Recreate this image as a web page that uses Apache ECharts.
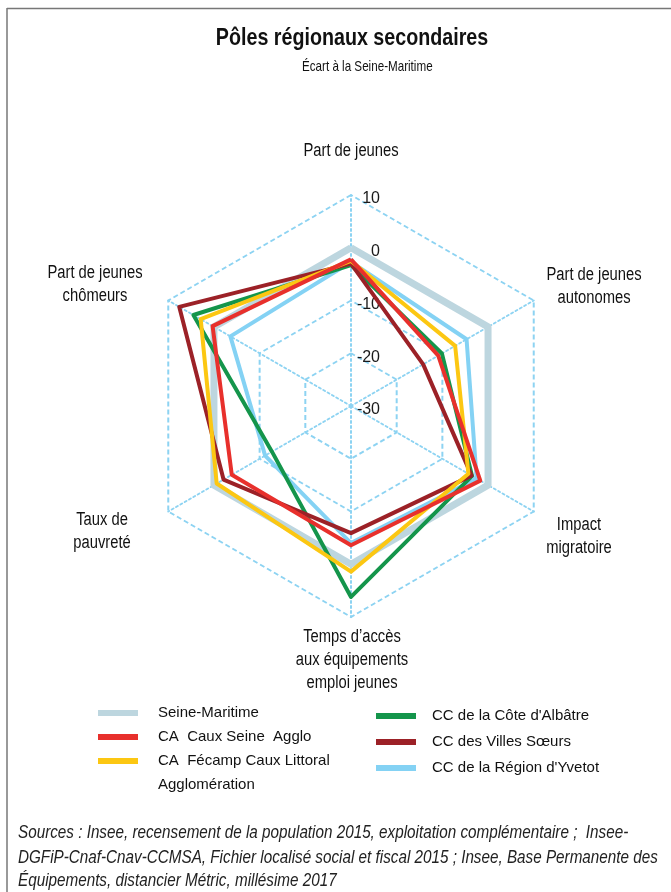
<!DOCTYPE html>
<html>
<head>
<meta charset="utf-8">
<script src="https://cdn.jsdelivr.net/npm/echarts@6/dist/echarts.min.js"></script>
<style>
html,body{margin:0;padding:0;background:#fff;}
#chart{width:671px;height:892px;}
</style>
</head>
<body>
<div id="chart"></div>
<script>
// ---- data ----
const indicatorNames = ['Part de jeunes', 'Part de jeunes\nchômeurs', 'Taux de\npauvreté', 'Temps d’accès\naux équipements\nemploi jeunes', 'Impact\nmigratoire', 'Part de jeunes\nautonomes'];
const seriesNames = ['Seine-Maritime', 'CA  Caux Seine  Agglo', 'CA  Fécamp Caux Littoral\nAgglomération', 'CC de la Côte d\'Albâtre', 'CC des Villes Sœurs', 'CC de la Région d\'Yvetot'];
const seineMaritime = [0, 0, 0, 0, 0, 0];
const cauxSeine = [-2.2, 0.3, -3.9, -3.6, -1.7, -10.9];
const fecamp = [-2.5, 2.9, -0.6, 1.4, -4.3, -7.2];
const coteAlbatre = [-3.3, 4.5, -12.7, 6.2, -3.5, -10.1];
const villesSoeurs = [-3.0, 7.6, -2.1, -5.9, -3.6, -14.2];
const yvetot = [-2.7, -3.6, -11.2, -4.0, -2.5, -4.7];
const axisMin = -30, axisMax = 10;
const tickLabels = ['-30', '-20', '-10', '0', '10'];

const FONT = '"Liberation Sans", Arial, Helvetica, sans-serif';
const NARROW = 0.82; // horizontal squeeze to imitate a narrow face
const CX = 351, CY = 406, R = 211;
const colors = ['#bdd6df', '#e8302c', '#fcc712', '#14954b', '#9c2127', '#84d2f4'];
const widths = [7, 4, 4, 4, 4, 4];
const values = [seineMaritime, cauxSeine, fecamp, coteAlbatre, villesSoeurs, yvetot];
// drawing order (bottom -> top)
const drawOrder = [0, 5, 3, 4, 2, 1];

// axis-name label offsets relative to radar centre
const nameOffsets = [[0, -255], [-256, -121], [-249, 126], [1, 254], [228, 131], [243, -119]];

const chart = echarts.init(document.getElementById('chart'), null, {renderer: 'canvas'});

const indicator = indicatorNames.map((n, i) => {
  const o = {name: n, min: axisMin, max: axisMax};
  if (i === 0) {
    o.axisLabel = {
      show: true, margin: -29, align: 'right', verticalAlign: 'top', lineHeight: 8,
      color: '#1a1a1a', fontSize: 16, fontFamily: FONT,
      formatter: function (v) { return tickLabels[Math.round((v - axisMin) / 10)]; }
    };
  }
  return o;
});

const series = drawOrder.map(k => ({
  type: 'radar',
  name: seriesNames[k],
  z: 2,
  symbol: 'none',
  silent: true,
  itemStyle: {color: colors[k]},
  lineStyle: {color: colors[k], width: widths[k], type: 'solid'},
  data: [{value: values[k], name: seriesNames[k]}]
}));

function narrowText(x, y, text, font, align, extra) {
  return {type: 'text', x: x, y: y, scaleX: NARROW, scaleY: 1,
    style: Object.assign({text: text, font: font, fill: '#111', align: align, verticalAlign: 'middle'}, extra || {})};
}

const graphics = [
  {type: 'line', shape: {x1: 7, y1: 8.5, x2: 671, y2: 8.5}, style: {stroke: '#777', lineWidth: 1.5}},
  {type: 'line', shape: {x1: 7, y1: 8, x2: 7, y2: 892}, style: {stroke: '#777', lineWidth: 1.5}},
  narrowText(352, 38, 'Pôles régionaux secondaires', 'bold 24px ' + FONT, 'center'),
  narrowText(302, 67, 'Écart à la Seine-Maritime', '14.2px ' + FONT, 'left'),
  narrowText(18, 833, 'Sources : Insee, recensement de la population 2015, exploitation complémentaire ;  Insee-', 'italic 18.6px ' + FONT, 'left', {fill: '#222'}),
  narrowText(18, 858, 'DGFiP-Cnaf-Cnav-CCMSA, Fichier localisé social et fiscal 2015 ; Insee, Base Permanente des', 'italic 18.6px ' + FONT, 'left', {fill: '#222'}),
  narrowText(18, 881, 'Équipements, distancier Métric, millésime 2017', 'italic 18.6px ' + FONT, 'left', {fill: '#222'}),
  // second line of the yellow legend entry
  {type: 'text', x: 158, y: 785, style: {text: seriesNames[2].split('\n')[1], font: '15px ' + FONT, fill: '#111', verticalAlign: 'middle'}}
];
indicatorNames.forEach((n, i) => {
  graphics.push(narrowText(CX + nameOffsets[i][0], CY + nameOffsets[i][1], n, '18px ' + FONT, 'center', {lineHeight: 23}));
});

const legendBase = {
  orient: 'vertical', icon: 'rect', itemWidth: 40, itemHeight: 6, padding: 0,
  selectedMode: false,
  itemStyle: {borderWidth: 0},
  formatter: function (name) { return name.split('\n')[0]; },
  textStyle: {fontFamily: FONT, fontSize: 15, color: '#111', lineHeight: 20, padding: [0, 0, 0, 15]}
};

const option = {
  backgroundColor: '#fff',
  animation: false,
  radar: {
    center: [CX, CY],
    radius: R,
    shape: 'polygon',
    splitNumber: 4,
    startAngle: 90,
    axisName: {show: false},
    axisLabel: {show: false},
    axisTick: {show: false},
    axisLine: {show: true, lineStyle: {color: '#8dd3f2', width: 2, type: [2, 3]}},
    splitLine: {show: true, lineStyle: {color: '#8dd3f2', width: 2, type: [5, 3]}},
    splitArea: {show: false},
    indicator: indicator
  },
  legend: [
    Object.assign({}, legendBase, {
      left: 98, top: 703, itemGap: 4,
      data: [seriesNames[0], seriesNames[1], seriesNames[2]]
    }),
    Object.assign({}, legendBase, {
      left: 376, top: 706, itemGap: 6,
      textStyle: Object.assign({}, legendBase.textStyle, {padding: [0, 0, 0, 11]}),
      data: [seriesNames[3], seriesNames[4], seriesNames[5]]
    })
  ],
  graphic: graphics,
  series: series
};
chart.setOption(option);
</script>
</body>
</html>
